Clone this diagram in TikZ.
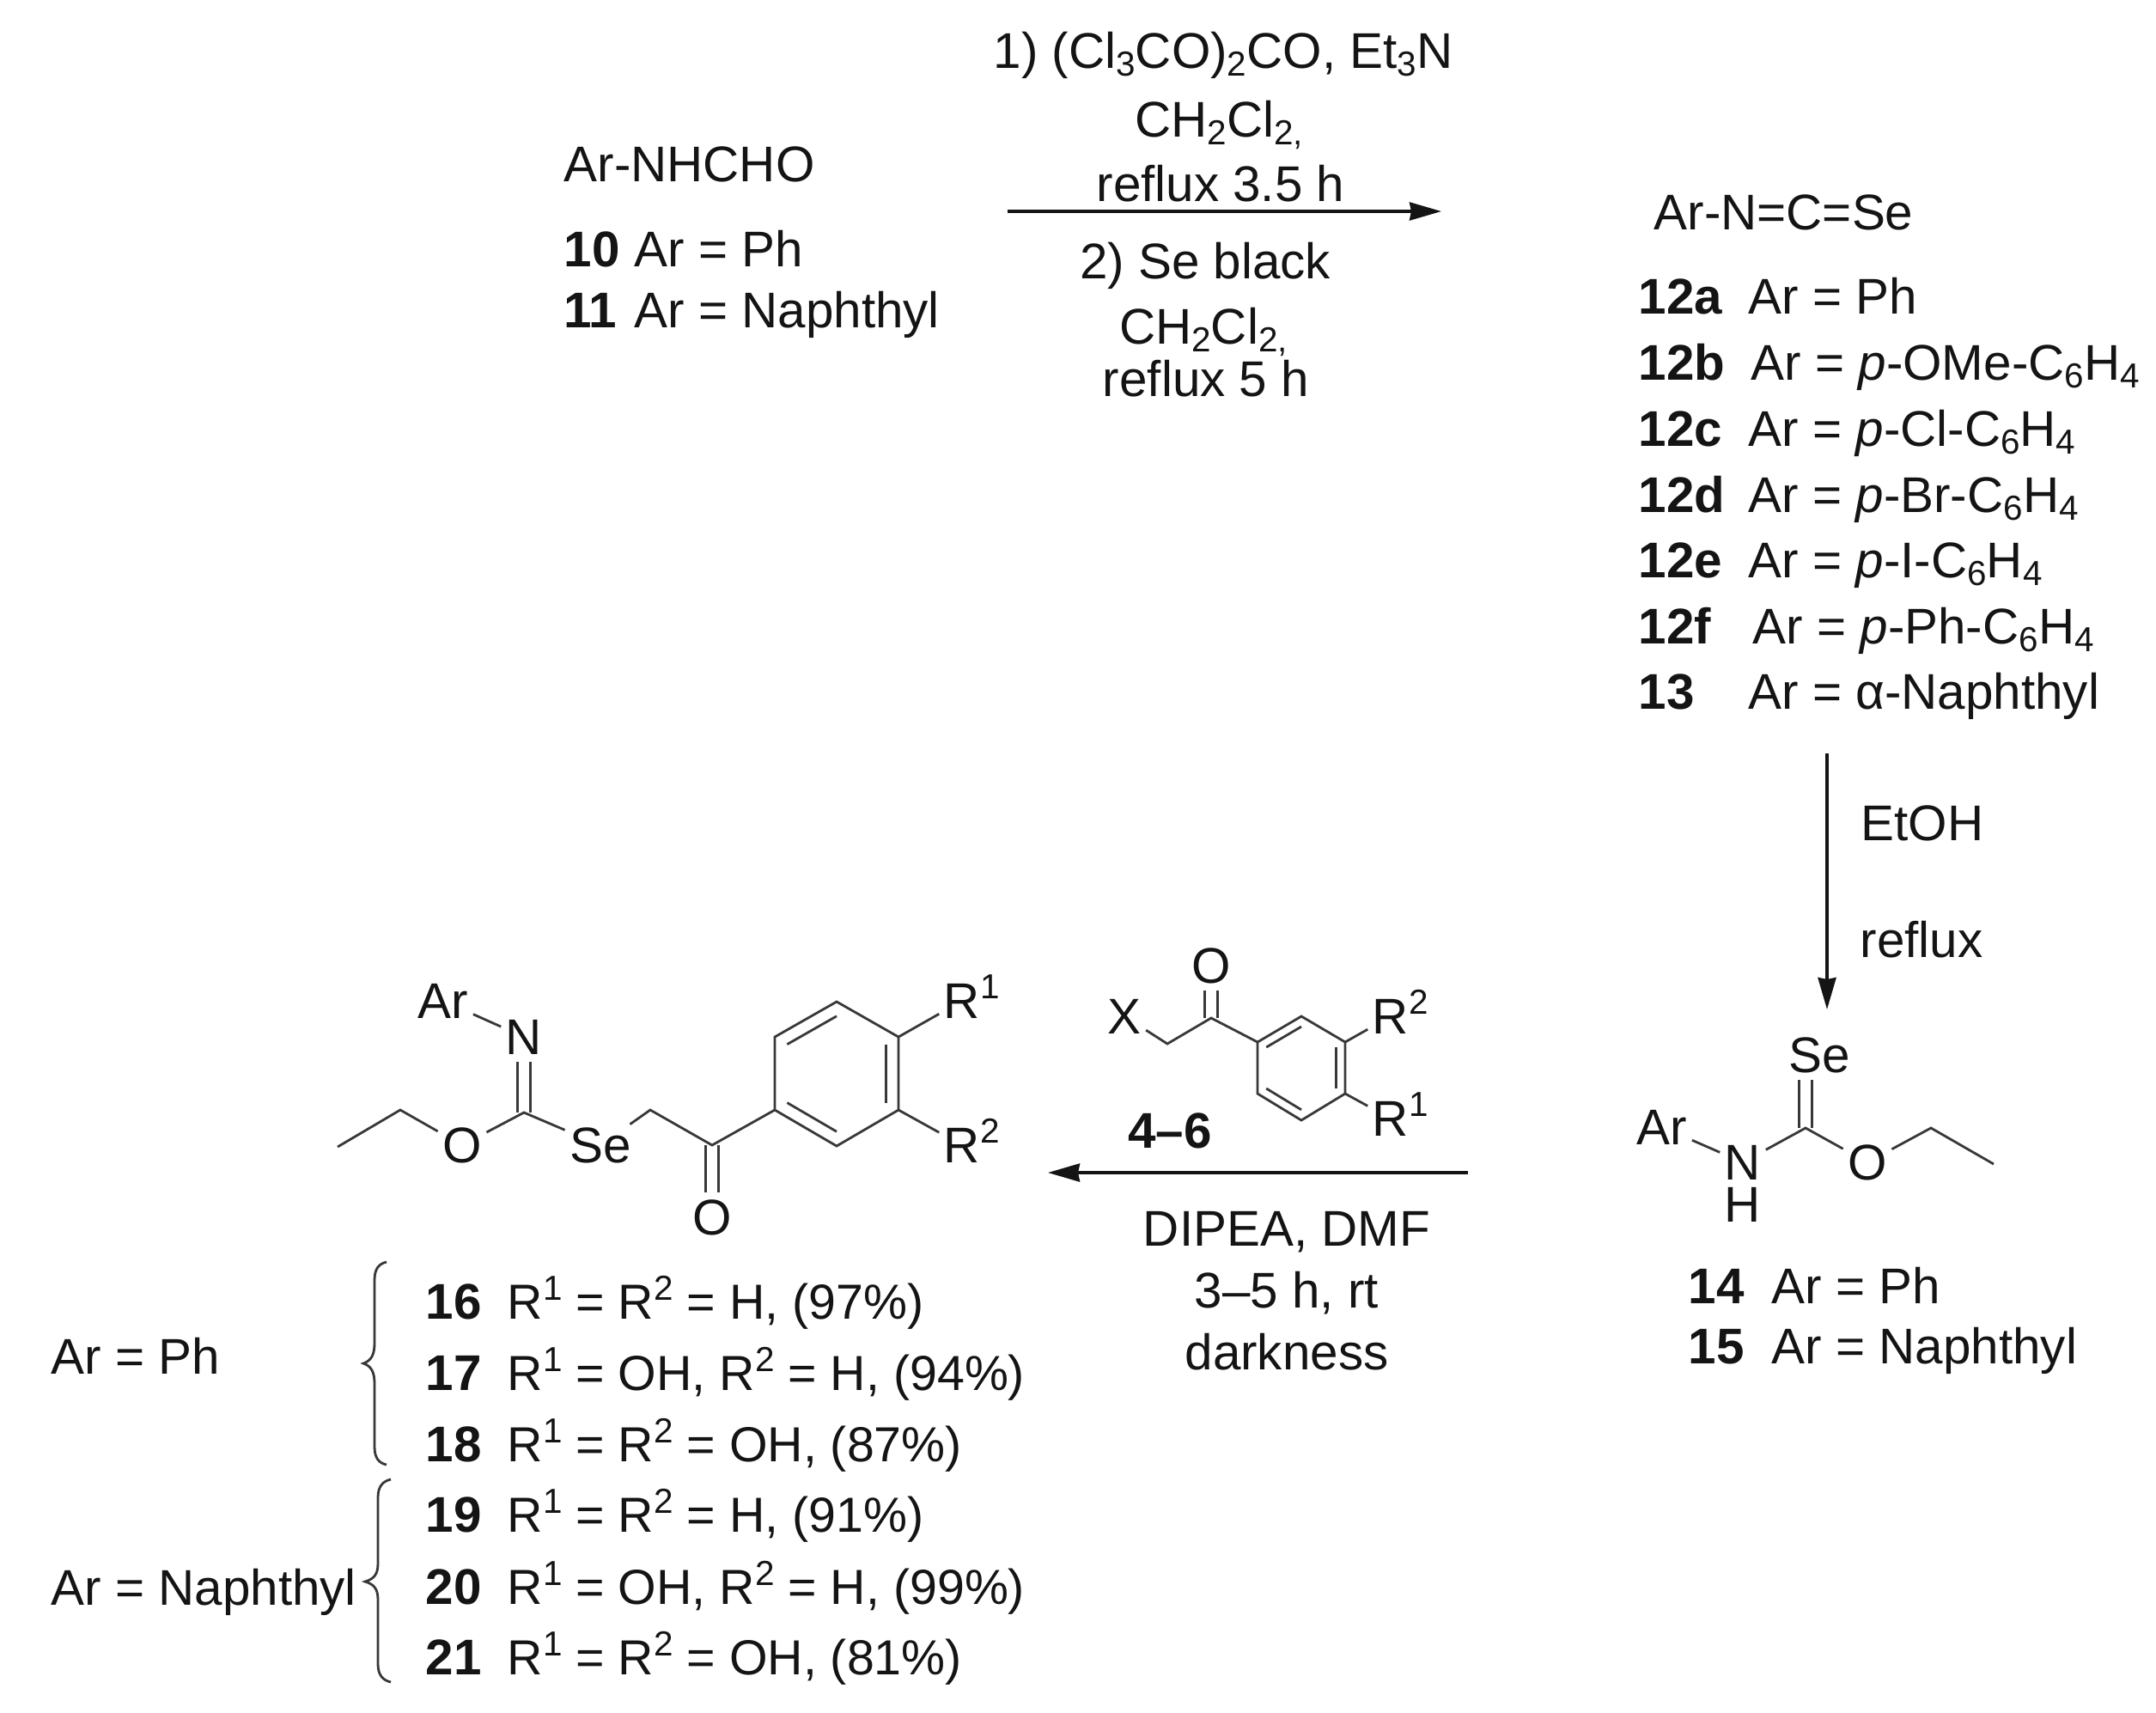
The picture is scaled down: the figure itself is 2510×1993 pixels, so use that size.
\documentclass[tikz,border=0pt]{standalone}
\usepackage{fontspec}
\setmainfont{Liberation Sans}
\usetikzlibrary{calc,arrows.meta}
\newcommand{\sps}[1]{\raisebox{0.38em}{\fontsize{11.5}{12}\selectfont #1}}
\newcommand{\sbs}[1]{\raisebox{-0.16em}{\fontsize{11.5}{12}\selectfont #1}}
\newcommand{\rsup}[1]{R\smash{\rlap{\sps{#1}}}}
\tikzset{
	every node/.style={font=\fontsize{16.6}{20}\selectfont, text=black!92},
	txt/.style={anchor=base west, inner sep=0pt},
	lst/.style={txt, font=\fontsize{16.3}{20}\selectfont},
	ctr/.style={anchor=base, inner sep=0pt},
	atom/.style={inner xsep=0.05cm, inner ysep=0.08cm},
	bond/.style={line width=0.8pt, draw=black!78},
	dbond/.style={bond, double, double distance=0.12cm},
	rxn/.style={line width=1pt, draw=black!92, -{Stealth[length=0.37cm,width=0.21cm,inset=0.02cm]}}
}
\begin{document}
\begin{tikzpicture}[x=0.01cm,y=-0.01cm]
		\useasboundingbox (0,0) rectangle (2510,1993);
		% top reaction
		\node[txt] (SM) at (656,211) {Ar-NHCHO};
		\node[txt] (L10) at (656,310) {\textbf{10}};
		\node[txt] (T10) at (738,310) {Ar = Ph};
		\node[txt] (L11) at (656,381) {\textbf{11}};
		\node[txt] (T11) at (738,381) {Ar = Naphthyl};
		\coordinate (P) at (1173,246);
		\coordinate (Q) at (1678,246);
		\draw[rxn] (P) -- (Q);
		\node[ctr] (C1) at (1424,79) {1) (Cl\sbs{3}CO)\sbs{2}CO, Et\sbs{3}N};
		\node[ctr] (C2) at (1419,159) {CH\sbs{2}Cl\sbs{2,}};
		\node[ctr] (C3) at (1421,234) {reflux 3.5 h};
		\node[ctr] (C4) at (1403,324) {2) Se black};
		\node[ctr] (C5) at (1401,400) {CH\sbs{2}Cl\sbs{2,}};
		\node[ctr] (C6) at (1404,461) {reflux 5 h};
		% isoselenocyanates
		\node[txt] (NCSe) at (1925,267) {Ar-N=C=Se};
		\node[txt] (L12a) at (1907,365) {\textbf{12a}};
		\node[txt] (T12a) at (2035,365) {Ar = Ph};
		\node[txt] (L12b) at (1907,442) {\textbf{12b}};
		\node[txt] (T12b) at (2038,442) {Ar = \textit{p}-OMe-C\sbs{6}H\sbs{4}};
		\node[txt] (L12c) at (1907,519) {\textbf{12c}};
		\node[txt] (T12c) at (2035,519) {Ar = \textit{p}-Cl-C\sbs{6}H\sbs{4}};
		\node[txt] (L12d) at (1907,596) {\textbf{12d}};
		\node[txt] (T12d) at (2035,596) {Ar = \textit{p}-Br-C\sbs{6}H\sbs{4}};
		\node[txt] (L12e) at (1907,672) {\textbf{12e}};
		\node[txt] (T12e) at (2035,672) {Ar = \textit{p}-I-C\sbs{6}H\sbs{4}};
		\node[txt] (L12f) at (1907,749) {\textbf{12f}};
		\node[txt] (T12f) at (2040,749) {Ar = \textit{p}-Ph-C\sbs{6}H\sbs{4}};
		\node[txt] (L13) at (1907,825) {\textbf{13}};
		\node[txt] (T13) at (2035,825) {Ar = α-Naphthyl};
		% right arrow
		\coordinate (R) at (2127,877);
		\coordinate (S) at (2127,1175);
		\draw[rxn] (R) -- (S);
		\node[txt] (EtOH) at (2166,978) {EtOH};
		\node[txt] (Rf) at (2165,1114) {reflux};
		% selenocarbamate
		\node[atom] (SeB) at (2118,1228) {Se};
		\node[atom] (NB) at (2029,1353) {N};
		\node[atom] (HB) at (2029,1402) {H};
		\node[atom] (ArB) at (1935,1312) {Ar};
		\node[atom] (OB) at (2174,1353) {O};
		\coordinate (cB) at (2102,1313);
		\coordinate (dB) at (2248,1313);
		\coordinate (eB) at (2321,1355);
		\draw[dbond] (cB) -- (cB |- SeB.south);
		\draw[bond] (ArB) -- (NB);
		\draw[bond] (NB) -- (cB) -- (OB);
		\draw[bond] (OB) -- (dB) -- (eB);
		\node[txt] (L14) at (1965,1517) {\textbf{14}};
		\node[txt] (T14) at (2062,1517) {Ar = Ph};
		\node[txt] (L15) at (1965,1587) {\textbf{15}};
		\node[txt] (T15) at (2062,1587) {Ar = Naphthyl};
		% bottom arrow and reagent
		\coordinate (U) at (1709,1365);
		\coordinate (V) at (1220,1365);
		\draw[rxn] (U) -- (V);
		\node[ctr] (K) at (1362,1336) {\textbf{4–6}};
		\node[ctr] (D1) at (1498,1450) {DIPEA, DMF};
		\node[ctr] (D2) at (1498,1522) {3–5 h, rt};
		\node[ctr] (D3) at (1498,1594) {darkness};
		\node[atom] (XK) at (1309,1183) {X};
		\node[atom] (OK) at (1410,1124) {O};
		\node[atom] (R2K) at (1619,1183) {\rsup{2}};
		\node[atom] (R1K) at (1619,1302) {\rsup{1}};
		\coordinate (gK) at (1359,1215);
		\coordinate (hK) at (1410,1185);
		\coordinate (b1) at (1515,1183);
		\coordinate (b2) at (1566,1213);
		\coordinate (b3) at (1566,1273);
		\coordinate (b4) at (1515,1304);
		\coordinate (b5) at (1464,1273);
		\coordinate (b6) at (1464,1213);
		\coordinate (bc) at (1515,1243);
		\draw[dbond] (hK) -- (OK);
		\draw[bond] (XK) -- (gK) -- (hK) -- (b6);
		\draw[bond] (b1) -- (b2) -- (b3) -- (b4) -- (b5) -- (b6) -- cycle;
		\draw[bond] ($(bc)!.8!(b6)$) -- ($(bc)!.8!(b1)$);
		\draw[bond] ($(bc)!.8!(b2)$) -- ($(bc)!.8!(b3)$);
		\draw[bond] ($(bc)!.8!(b4)$) -- ($(bc)!.8!(b5)$);
		\draw[bond] (b2) -- (R2K);
		\draw[bond] (b3) -- (R1K);
		% product
		\node[atom] (ArA) at (516,1165) {Ar};
		\node[atom] (NA) at (610,1207) {N};
		\node[atom] (OA) at (538,1333) {O};
		\node[atom, inner ysep=0.03cm] (SeA) at (699,1333) {Se};
		\node[atom] (OC) at (829,1417) {O};
		\node[atom] (R1A) at (1120,1165) {\rsup{1}};
		\node[atom] (R2A) at (1120,1333) {\rsup{2}};
		\coordinate (fA) at (393,1335);
		\coordinate (gA) at (466,1292);
		\coordinate (cA) at (610,1295);
		\coordinate (hA) at (757,1292);
		\coordinate (jA) at (829,1333);
		\coordinate (a1) at (974,1166);
		\coordinate (a2) at (1046,1207);
		\coordinate (a3) at (1046,1292);
		\coordinate (a4) at (974,1334);
		\coordinate (a5) at (902,1292);
		\coordinate (a6) at (902,1207);
		\coordinate (ac) at (974,1250);
		\draw[dbond] (cA) -- (NA);
		\draw[dbond] (jA) -- (OC);
		\draw[bond] (ArA) -- (NA);
		\draw[bond] (fA) -- (gA) -- (OA);
		\draw[bond] (OA) -- (cA) -- (SeA);
		\draw[bond] (SeA) -- (hA) -- (jA) -- (a5);
		\draw[bond] (a1) -- (a2) -- (a3) -- (a4) -- (a5) -- (a6) -- cycle;
		\draw[bond] ($(ac)!.8!(a6)$) -- ($(ac)!.8!(a1)$);
		\draw[bond] ($(ac)!.8!(a2)$) -- ($(ac)!.8!(a3)$);
		\draw[bond] ($(ac)!.8!(a4)$) -- ($(ac)!.8!(a5)$);
		\draw[bond] (a2) -- (R1A);
		\draw[bond] (a3) -- (R2A);
		% products list
		\node[txt] (ArPh) at (59,1599) {Ar = Ph};
		\node[txt] (ArNa) at (59,1868) {Ar = Naphthyl};
		\draw[bond] (450,1469) .. controls (441,1471) and (436,1477) .. (436,1490) -- (436,1564) .. controls (436,1577) and (432,1584) .. (423,1587) .. controls (432,1590) and (436,1597) .. (436,1610) -- (436,1684) .. controls (436,1697) and (441,1703) .. (450,1705);
		\draw[bond] (455,1722) .. controls (446,1724) and (440,1730) .. (440,1743) -- (440,1820) .. controls (440,1833) and (435,1838) .. (425,1841) .. controls (435,1844) and (440,1849) .. (440,1862) -- (440,1937) .. controls (440,1950) and (446,1956) .. (455,1958);
		\node[txt] (L16) at (495,1535) {\textbf{16}};
		\node[lst] (T16) at (590,1535) {R\sps{1} = R\sps{2} = H, (97\%)};
		\node[txt] (L17) at (495,1618) {\textbf{17}};
		\node[lst] (T17) at (590,1618) {R\sps{1} = OH, R\sps{2} = H, (94\%)};
		\node[txt] (L18) at (495,1701) {\textbf{18}};
		\node[lst] (T18) at (590,1701) {R\sps{1} = R\sps{2} = OH, (87\%)};
		\node[txt] (L19) at (495,1783) {\textbf{19}};
		\node[lst] (T19) at (590,1783) {R\sps{1} = R\sps{2} = H, (91\%)};
		\node[txt] (L20) at (495,1867) {\textbf{20}};
		\node[lst] (T20) at (590,1867) {R\sps{1} = OH, R\sps{2} = H, (99\%)};
		\node[txt] (L21) at (495,1949) {\textbf{21}};
		\node[lst] (T21) at (590,1949) {R\sps{1} = R\sps{2} = OH, (81\%)};
\end{tikzpicture}
\end{document}
